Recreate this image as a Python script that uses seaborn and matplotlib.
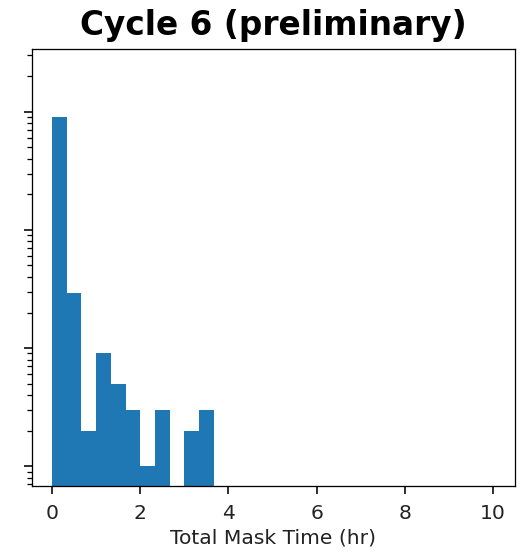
import numpy as np
import pandas as pd
import matplotlib
matplotlib.use("Agg")
import matplotlib.pyplot as plt
import matplotlib.ticker as mticker
import seaborn as sns

# Histogram counts of total mask time, 30 bins over 0-10 hr
bin_edges = np.linspace(0, 10, 31)
counts = [900, 29, 2, 9, 5, 3, 1, 3, 0, 2, 3] + [0] * 19

df = pd.DataFrame({
    "mask_time": (bin_edges[:-1] + bin_edges[1:]) / 2,
    "count": counts,
})

plt.style.use("default")
plt.rcParams["font.family"] = ["DejaVu Sans"]

dpi = 115
fig = plt.figure(figsize=(529 / dpi, 552 / dpi), dpi=dpi)
ax = fig.add_axes([0.060, 0.1196, 0.9135, 0.7916])

sns.histplot(data=df, x="mask_time", weights="count",
             bins=30, binrange=(0, 10),
             color="#1f77b4", alpha=1, linewidth=0, ax=ax)

ax.set_yscale("log")
ax.set_ylim(0.68, 3400)
ax.set_xlim(-0.46, 10.5)
ax.set_xticks([0, 2, 4, 6, 8, 10])
ax.yaxis.set_major_formatter(mticker.NullFormatter())
ax.yaxis.set_minor_formatter(mticker.NullFormatter())
ax.set_ylabel("")
ax.set_xlabel("Total Mask Time (hr)", fontsize=12.7, color="#222222")
ax.tick_params(labelsize=12.7, labelcolor="#222222")
ax.tick_params(which="major", length=5, width=1, pad=6)
ax.tick_params(which="minor", length=3, width=0.8)
for s in ax.spines.values():
    s.set_color("black")
ax.set_title("Cycle 6 (preliminary)", fontsize=20.5, fontweight="bold", pad=9)

fig.savefig("out.png", dpi=dpi)
